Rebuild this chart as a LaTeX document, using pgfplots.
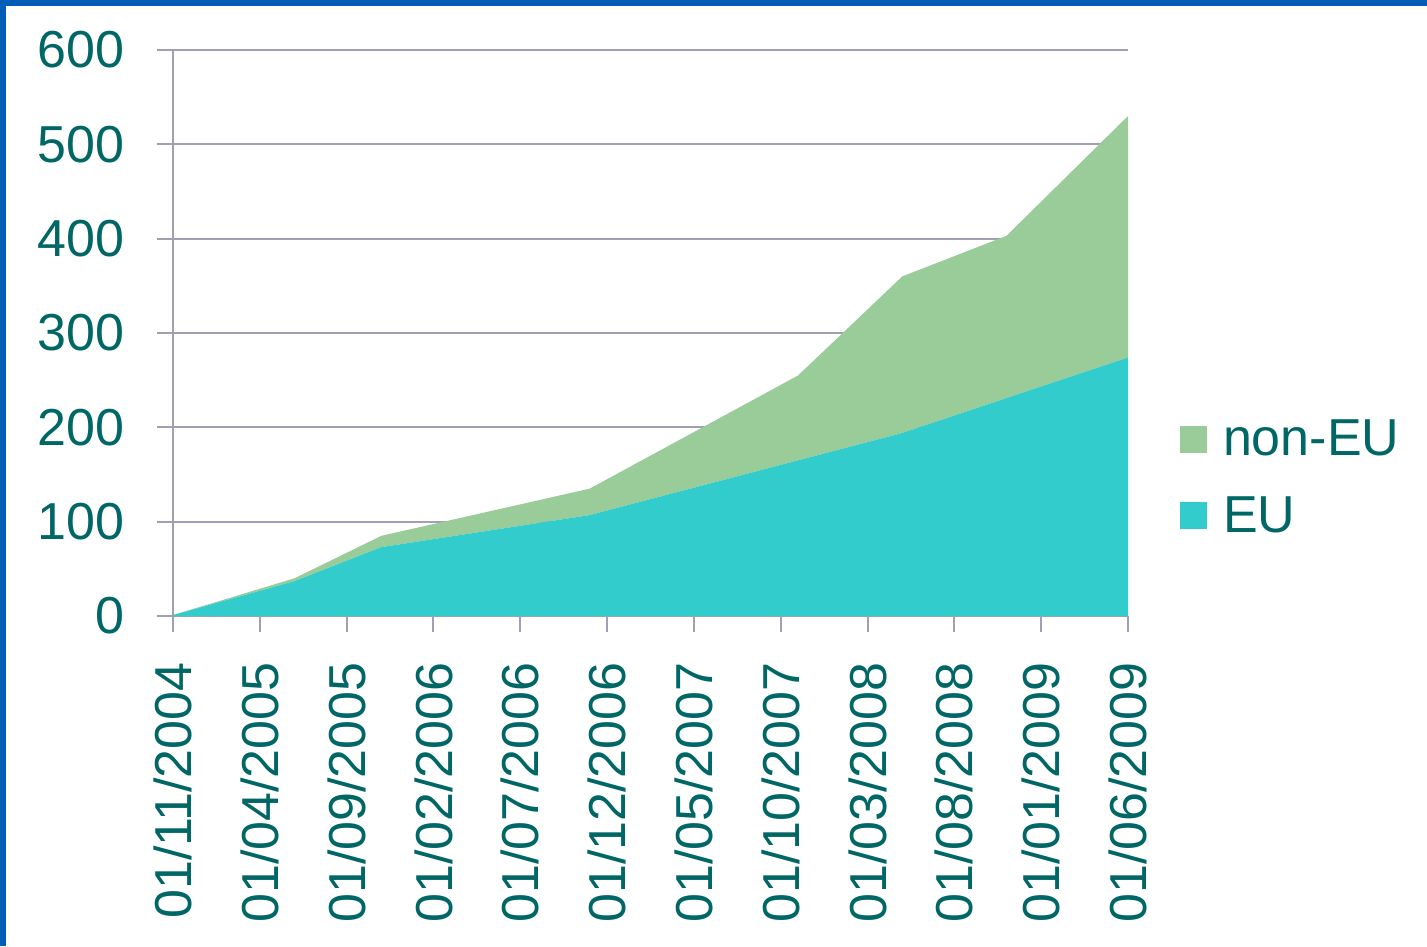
\documentclass[border=0pt]{standalone}
\usepackage{fontspec}
\setmainfont{Liberation Sans}
\usepackage{pgfplots}
\pgfplotsset{compat=1.18}
\definecolor{txt}{RGB}{0,102,102}
\definecolor{eu}{RGB}{51,204,204}
\definecolor{noneu}{RGB}{153,204,153}
\definecolor{gridc}{RGB}{160,160,178}
\definecolor{framec}{RGB}{0,94,184}
\begin{document}
\begin{tikzpicture}
\useasboundingbox (-86.5pt,-165pt) rectangle (627pt,308pt);
\fill[white] (-86.5pt,-165pt) rectangle (627pt,308pt);
\fill[framec] (-86.5pt,305pt) rectangle (627pt,308pt);
\fill[framec] (-86.5pt,-165pt) rectangle (-83.5pt,308pt);
\begin{axis}[
  at={(0pt,0pt)}, anchor=south west, scale only axis,
  width=477.5pt, height=283pt,
  xmin=0, xmax=55, ymin=0, ymax=600,
  axis lines=left,
  axis line style={gridc, line width=1pt, -},
  stack plots=y,
  xtick={0,5,...,55},
  xticklabels={01/11/2004,01/04/2005,01/09/2005,01/02/2006,01/07/2006,01/12/2006,01/05/2007,01/10/2007,01/03/2008,01/08/2008,01/01/2009,01/06/2009},
  ytick={0,100,...,600},
  ymajorgrids,
  grid style={gridc, line width=1pt},
  tick style={gridc, line width=1pt},
  tick align=outside,
  major tick length=8pt,
  /pgf/number format/assume math mode=true,
  ticklabel style={font=\fontsize{26}{31}\selectfont, text=txt, inner sep=0pt},
  xticklabel style={rotate=90, anchor=east},
  yticklabel style={anchor=east},
  xticklabel shift=15pt,
  yticklabel shift=16pt,
  reverse legend,
  legend image code/.code={\fill[#1] (0pt,-6.75pt) rectangle (13.5pt,6.75pt);},
  legend style={at={(1.0545,0.2447)}, anchor=west, draw=none, fill=none,
    inner sep=0pt, outer sep=0pt,
    font=\fontsize{26}{31}\selectfont, text=txt,
    nodes={inner sep=0pt},
    /tikz/every odd column/.append style={column sep=8pt},
    row sep=19pt},
  legend cell align=left,
]
\addplot[fill=eu, draw=none] coordinates {(0,1)(7,37)(12,73)(24,107)(36,165)(42,194)(48,231)(55,274)} \closedcycle;
\addlegendentry{EU}
\addplot[fill=noneu, draw=none] coordinates {(0,0)(7,3)(12,12)(24,28)(36,90)(42,166)(48,172)(55,256)} \closedcycle;
\addlegendentry{non-EU}
\end{axis}
\end{tikzpicture}
\end{document}
